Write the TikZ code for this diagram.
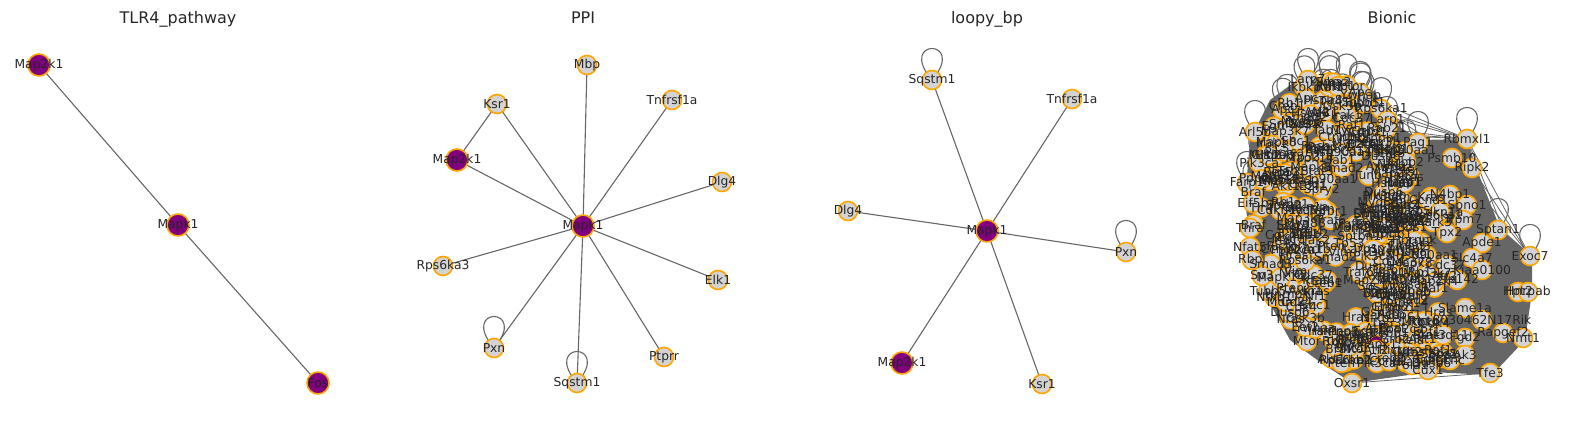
\documentclass[tikz,border=0pt]{standalone}
\usepackage{fontspec}
\setmainfont{DejaVu Sans}
\usetikzlibrary{backgrounds}
\definecolor{hubpurple}{HTML}{800080}
\definecolor{rimorange}{HTML}{FFA500}
\definecolor{genegrey}{HTML}{D3D3D3}
\definecolor{linkgrey}{HTML}{666666}
\definecolor{inkgrey}{HTML}{262626}
\tikzset{lbl/.style={text=inkgrey, font=\fontsize{12.3}{14}\selectfont, inner sep=0pt}}
\tikzset{title/.style={text=inkgrey, font=\fontsize{16}{19}\selectfont, anchor=base}}
\tikzset{hub/.style={circle, fill=hubpurple, draw=rimorange, line width=1.6pt,
  minimum size=22pt, inner sep=0pt, label={[lbl]center:#1}}}
\tikzset{gene/.style={circle, fill=genegrey, draw=rimorange, line width=1.6pt,
  minimum size=19pt, inner sep=0pt, label={[lbl]center:#1}}}
\tikzset{bgene/.style={circle, fill=genegrey, draw=rimorange, line width=1.6pt,
  minimum size=19pt, inner sep=0pt}}
\tikzset{bhub/.style={circle, fill=hubpurple, draw=rimorange, line width=1.6pt,
  minimum size=19pt, inner sep=0pt}}
\tikzset{link/.style={draw=linkgrey, line width=1.1pt}}
\tikzset{thinlink/.style={draw=linkgrey, line width=0.8pt}}

\def\bionicgenes{Akt1,Braf,Raf1,Hras,Kras,Nras,Sos1,Grb2,Shc1,Rps6ka1,Dusp6,Spry2,Egfr,Erbb2,
  Pik3ca,Pten,Mtor,Rictor,Stat3,Jak2,Junb,Atf2,Creb1,Myc,Ccnd1,Cdk4,Rb1,E2f1,Tp53,Mdm2,
  Cdkn1a,Gsk3b,Ctnnb1,Axin1,Apc,Smad2,Smad3,Tgfbr1,Nfkb1,Rela,Ikbkb,Traf6,Irak1,Myd88,Tlr4,
  Cd14,Map3k7,Tab1,Map2k4,Mapk8,Mapk14,Dusp1,Ppp2ca,Ywhab,Ywhaz,Hspa8,Hsp90aa1,Cdc37,Pebp1,Rasa1,
  Nf1,Sptbn1,Actb,Tubb5,Vim,Larp1,Eef2,Eif4e,Pabpc1,Hnrnpk}
\def\bionicrim{bLarp/1308/80/Larp7, bRab/1387/128/Rab21, bPag/1418/143/Pag1,
  bRbm/1467/139/Rbmxl1, bPsmb/1452/158/Psmb10, bRipk/1472/168/Ripk2, bNbp/1450/195/N4bp1,
  bSbno/1467/205/Sbno1, bMark/1433/222/Mark3, bTrpm/1463/220/Trpm7, bTpx/1447/233/Tpx2,
  bSptan/1498/230/Sptan1, bApde/1482/243/Apde1, bExoc/1530/256/Exoc7, bSlc/1472/258/Slc4a7,
  bKiaa/1482/270/Kiaa0100, bZfp/1457/280/Zfp142, bHpt/1518/292/Hpt2, bHnr/1528/292/Hnrpab,
  bSlam/1465/308/Slame1a, bRik/1482/320/8030462N17Rik, bRap/1503/333/Rapgef2, bNmt/1523/338/Nmt1,
  bAnk/1443/335/Ankrd11, bFgd/1465/338/Fgd2, bCcnc/1450/360/Ccnc, bAk/1465/355/Ak3,
  bPola/1412/365/Pola1, bCux/1428/370/Cux1, bTfe/1490/373/Tfe3, bOxsr/1352/383/Oxsr1,
  bArl/1255/132/Arl5b, bMllt/1268/155/Mllt10, bFarp/1247/183/Farp1, bEif/1253/203/Eif5b,
  bThra/1250/228/Thra, bNfat/1250/247/Nfat5, bRbpj/1252/260/Rbpj, bSp/1262/276/Sp3}

\begin{document}
\begin{tikzpicture}[x=1pt, y=-1pt]
\path[use as bounding box] (0,0) rectangle (1570,427);

% TLR4_pathway
\node[title] (t1) at (178,24) {TLR4\_pathway};
\node[hub=Map2k1] (tMap2k1) at (39,65) {};
\node[hub=Mapk1] (tMapk1) at (178,225) {};
\node[hub=Fos] (tFos) at (318,383) {};

% PPI
\node[title] (t2) at (583,24) {PPI};
\node[gene=Mbp] (pMbp) at (587,65) {};
\node[gene=Ksr1] (pKsr1) at (497,104) {};
\node[gene=Tnfrsf1a] (pTnf) at (672,100) {};
\node[hub=Map2k1] (pMap2k1) at (457,160) {};
\node[gene=Dlg4] (pDlg4) at (722,182) {};
\node[hub=Mapk1] (pMapk1) at (583,226) {};
\node[gene=Rps6ka3] (pRps) at (443,266) {};
\node[gene=Elk1] (pElk1) at (718,280) {};
\node[gene=Pxn] (pPxn) at (494,348) {};
\node[gene=Sqstm1] (pSqstm1) at (577,383) {};
\node[gene=Ptprr] (pPtprr) at (664,357) {};

% loopy_bp
\node[title] (t3) at (987,24) {loopy\_bp};
\node[gene=Sqstm1] (lSqstm1) at (932,80) {};
\node[gene=Tnfrsf1a] (lTnf) at (1072,99) {};
\node[gene=Dlg4] (lDlg4) at (848,211) {};
\node[hub=Mapk1] (lMapk1) at (987,231) {};
\node[gene=Pxn] (lPxn) at (1126,252) {};
\node[hub=Map2k1] (lMap2k1) at (902,363) {};
\node[gene=Ksr1] (lKsr1) at (1042,384) {};

% Bionic: circles first, labels on top afterwards
\node[title] (t4) at (1392,24) {Bionic};
\pgfmathsetseed{4242}
\foreach \pass in {1,2,3} {
  \foreach \nm [count=\i] in \bionicgenes {
    \pgfmathsetmacro\gr{rnd^0.4}
    \pgfmathsetmacro\ga{360*rnd}
    \node[bgene] (a\pass-\i) at ({1333+82*\gr*cos(\ga)},{214+136*\gr*sin(\ga)}) {};
  }
}
\node[bhub] (bMapk1) at (1377,345) {};
\foreach \nm [count=\i] in \bionicgenes {
  \pgfmathsetmacro\gr{rnd^0.5}
  \pgfmathsetmacro\ga{360*rnd}
  \node[bgene] (bb\i) at ({1408+40*\gr*cos(\ga)},{262+88*\gr*sin(\ga)}) {};
}
\foreach \nm [count=\i] in \bionicgenes {
  \ifnum\i<26
  \pgfmathsetmacro\gx{1330+115*rnd}
  \pgfmathsetmacro\gy{346+18*rnd}
  \node[bgene] (cc\i) at (\gx,\gy) {};
  \fi
}
\foreach \nm/\px/\py/\tx in \bionicrim
  \node[bgene] (\nm) at (\px,\py) {};

\foreach \nm [count=\i] in \bionicgenes {
  \foreach \pass in {1,2,3}
    \node[lbl] (a\pass-\i-t) at (a\pass-\i) {\nm};
  \node[lbl] (bb\i-t) at (bb\i) {\nm};
  \ifnum\i<26 \node[lbl] (cc\i-t) at (cc\i) {\nm}; \fi
}
\node[lbl] (bMapk1-t) at (bMapk1) {Mapk1};
\foreach \nm/\px/\py/\tx in \bionicrim
  \node[lbl] (\nm-t) at (\nm) {\tx};

\begin{scope}[on background layer]
% edges of the three small graphs
\draw[link] (tMap2k1.center) -- (tMapk1.center) -- (tFos.center);
\foreach \g in {pMbp,pKsr1,pTnf,pMap2k1,pDlg4,pRps,pElk1,pPxn,pSqstm1,pPtprr}
  \draw[link] (pMapk1.center) -- (\g.center);
\draw[link] (pKsr1.center) -- (pMap2k1.center);
\draw[link] (pPxn.center) .. controls +(-36,-42) and +(36,-42) .. (pPxn.center);
\draw[link] (pSqstm1.center) .. controls +(-36,-42) and +(36,-42) .. (pSqstm1.center);
\foreach \g in {lSqstm1,lTnf,lDlg4,lPxn,lMap2k1,lKsr1}
  \draw[link] (lMapk1.center) -- (\g.center);
\draw[link] (lSqstm1.center) .. controls +(-36,-42) and +(36,-42) .. (lSqstm1.center);
\draw[link] (lPxn.center) .. controls +(-36,-42) and +(36,-42) .. (lPxn.center);

% hairball: dense mass of edges, then some loose ones
\fill[linkgrey] (1300,78) -- (1345,76) -- (1375,92) -- (1392,122) -- (1420,140) -- (1467,139)
  -- (1475,165) -- (1500,228) -- (1532,256) -- (1532,292) -- (1525,340) -- (1492,375)
  -- (1430,372) -- (1352,383) -- (1320,362) -- (1290,340) -- (1268,300) -- (1252,258)
  -- (1245,200) -- (1250,140) -- (1270,100) -- cycle;
\foreach \r in {bRbm,bRipk,bExoc,bHnr,bNmt,bTfe,bOxsr,bSptan,bPag,bRab} {
  \foreach \k in {1,...,8} {
    \pgfmathtruncatemacro\p{random(1,70)}
    \draw[thinlink] (\r.center) -- (a1-\p.center);
  }
}
\foreach \r in {bExoc,bHnr,bNmt} {
  \foreach \s in {bRipk,bRbm,bTfe,bOxsr,bCux,bPsmb,bSptan}
    \draw[thinlink] (\r.center) -- (\s.center);
}
\draw[thinlink] (bTfe.center) -- (bOxsr.center);
\draw[thinlink] (bCux.center) -- (bOxsr.center);
\foreach \pass in {1,2}
  \foreach \i in {1,...,70}
    \draw[link] (a\pass-\i.center) .. controls +(-36,-42) and +(36,-42) .. (a\pass-\i.center);
\foreach \g in {bLarp,bRab,bPag,bRbm,bSptan,bExoc,bArl,bMllt,bFarp,bEif}
  \draw[link] (\g.center) .. controls +(-36,-42) and +(36,-42) .. (\g.center);
\end{scope}

\end{tikzpicture}
\end{document}
